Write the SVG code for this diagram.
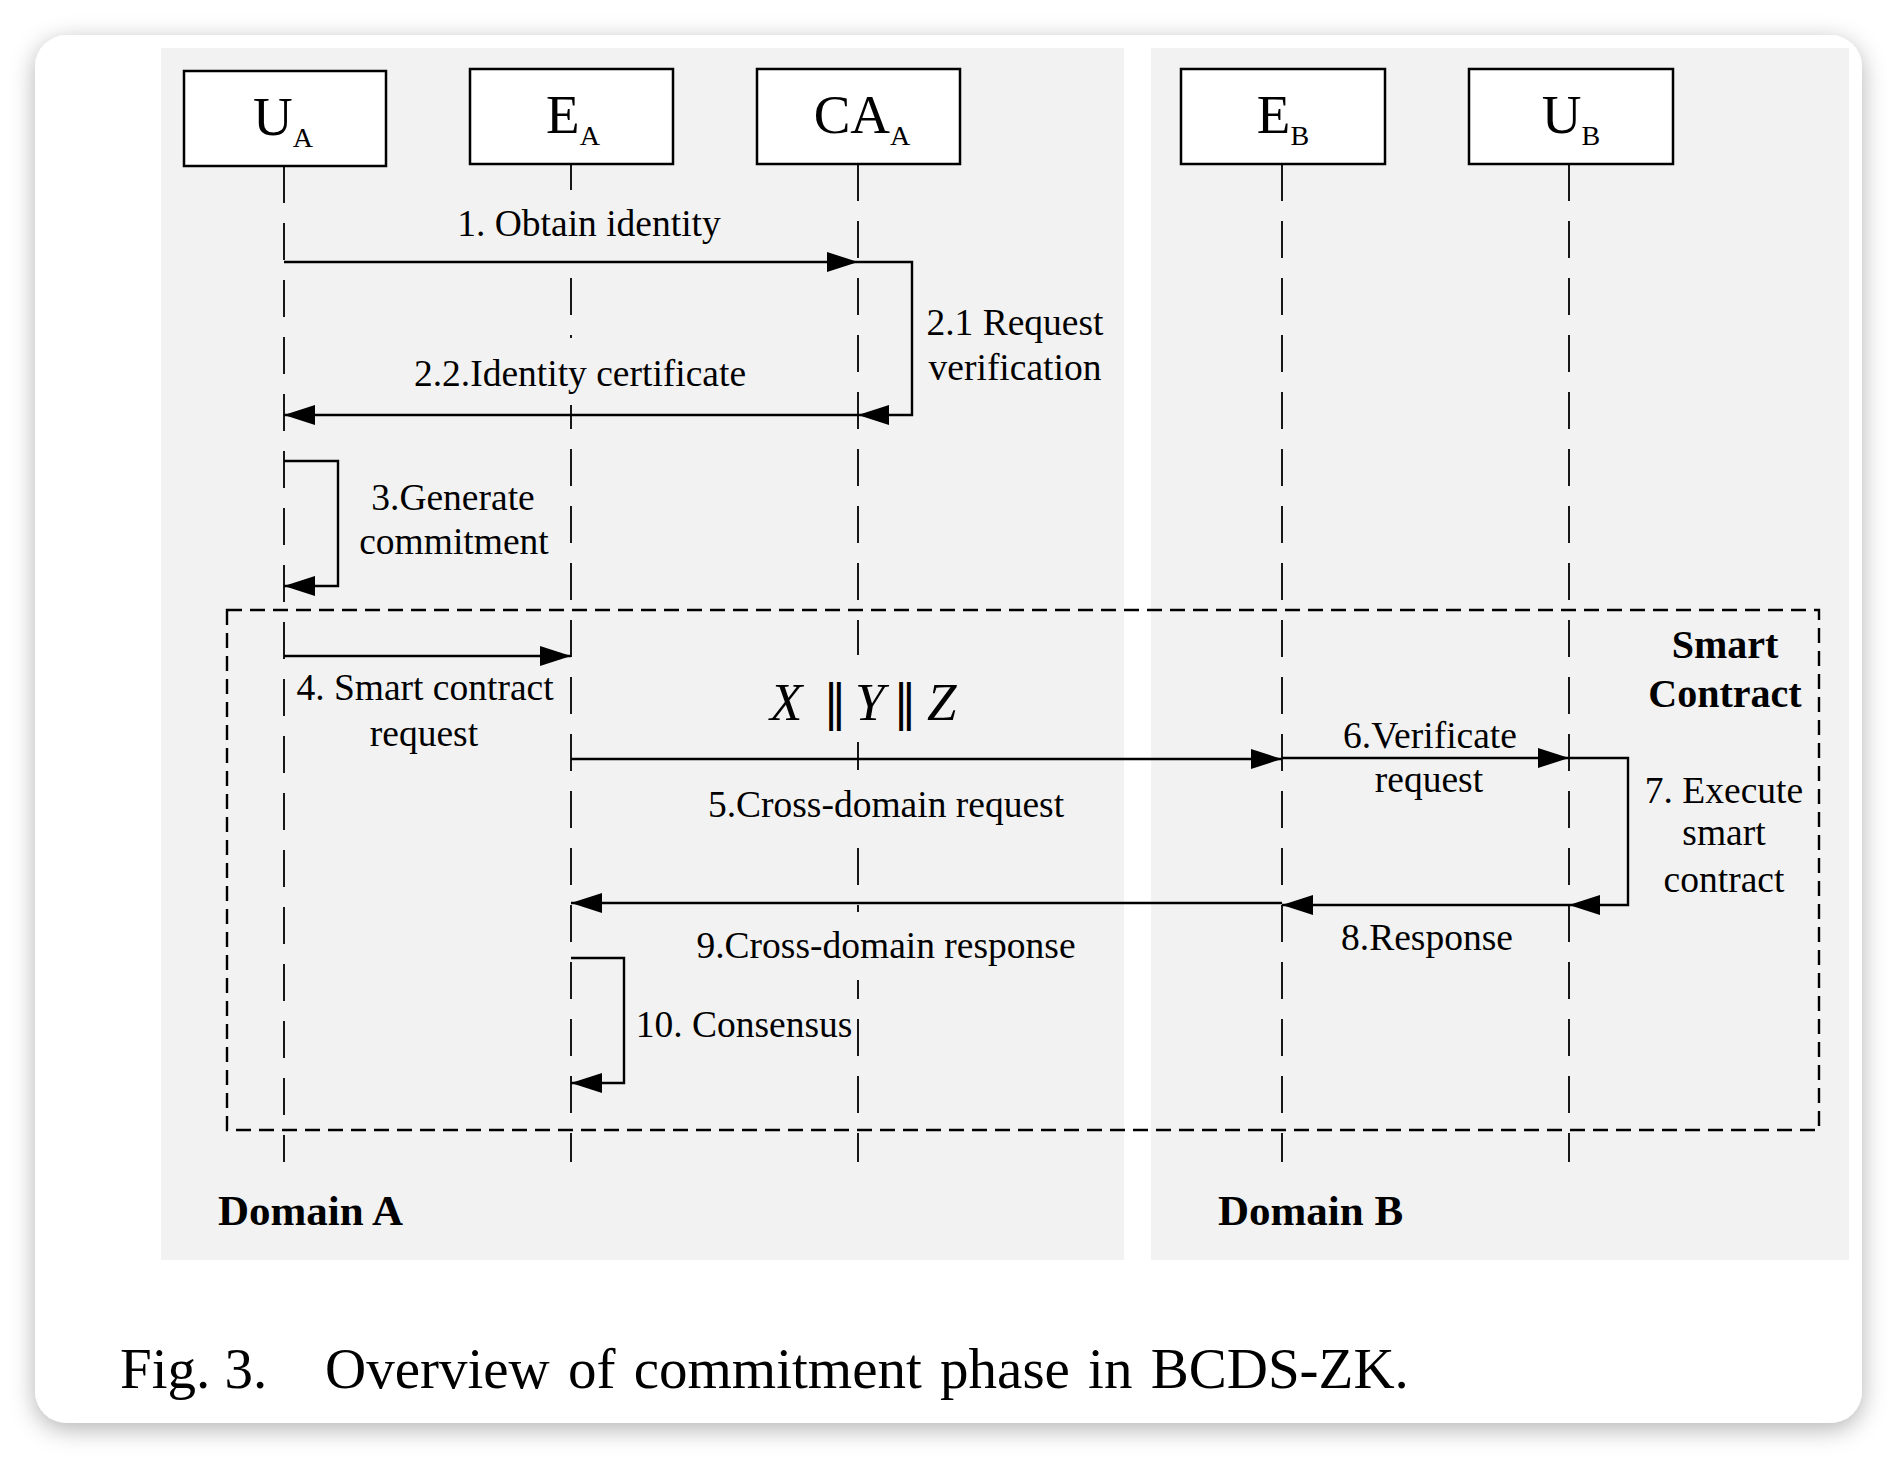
<svg xmlns="http://www.w3.org/2000/svg" width="1898" height="1460" viewBox="0 0 1898 1460">
<style>
.t{font-family:"Liberation Serif","Times New Roman",serif;font-size:37.5px;fill:#000;text-anchor:middle}
.b{font-family:"Liberation Serif","Times New Roman",serif;font-weight:bold;fill:#000}
.node{fill:#fff;stroke:#000;stroke-width:2.5}
.nl{font-family:"Liberation Serif","Times New Roman",serif;font-size:55px;fill:#000;text-anchor:middle}
.sub{font-size:28px}
.life{stroke:#000;stroke-width:1.8;stroke-dasharray:37 20;fill:none}
.msg{stroke:#000;stroke-width:2.4;fill:none;marker-end:url(#ah)}
.bg{fill:#f2f2f2}
.bar{font-family:"DejaVu Serif",serif;font-size:48px;font-style:normal}
</style>
<defs>
<filter id="sh" x="-5%" y="-5%" width="110%" height="115%">
<feDropShadow dx="0" dy="6" stdDeviation="12" flood-color="#000" flood-opacity="0.3"/>
</filter>
<marker id="ah" viewBox="0 0 31 20" refX="31" refY="10" markerWidth="31" markerHeight="20" markerUnits="userSpaceOnUse" orient="auto">
<path d="M0,0 L31,10 L0,20 Z" fill="#000"/>
</marker>
</defs>
<rect width="1898" height="1460" fill="#fff"/>
<rect x="35" y="35" width="1827" height="1388" rx="32" fill="#fff" filter="url(#sh)"/>
<g id="domainA"><rect x="161" y="48" width="963" height="1212" fill="#f2f2f2"/>
<text class="b" x="218" y="1225" font-size="43">Domain A</text></g>
<g id="domainB"><rect x="1151" y="48" width="698" height="1212" fill="#f2f2f2"/>
<text class="b" x="1218" y="1225" font-size="43">Domain B</text></g>

<g id="lifelines">
<line class="life" x1="284" y1="166" x2="284" y2="1162"/>
<line class="life" x1="571" y1="164" x2="571" y2="1162"/>
<line class="life" x1="858" y1="164" x2="858" y2="1162"/>
<line class="life" x1="1282" y1="164" x2="1282" y2="1162"/>
<line class="life" x1="1569" y1="164" x2="1569" y2="1162"/>
</g>

<g id="smart-contract">
<rect x="227" y="610" width="1592" height="520" fill="none" stroke="#000" stroke-width="2.4" stroke-dasharray="15 8"/>
<text class="b" x="1725" y="658" font-size="40" text-anchor="middle">Smart</text>
<text class="b" x="1725" y="707" font-size="40" text-anchor="middle">Contract</text>
</g>

<g id="UA"><rect class="node" x="184" y="71" width="202" height="95"/><text class="nl" x="283" y="135">U<tspan class="sub" dy="12">A</tspan></text></g>
<g id="EA"><rect class="node" x="470" y="69" width="203" height="95"/><text class="nl" x="573" y="133">E<tspan class="sub" dy="12">A</tspan></text></g>
<g id="CAA"><rect class="node" x="757" y="69" width="203" height="95"/><text class="nl" x="862" y="133">CA<tspan class="sub" dy="12">A</tspan></text></g>
<g id="EB"><rect class="node" x="1181" y="69" width="204" height="95"/><text class="nl" x="1283" y="133">E<tspan class="sub" dy="12">B</tspan></text></g>
<g id="UB"><rect class="node" x="1469" y="69" width="204" height="95"/><text class="nl" x="1571" y="133">U<tspan class="sub" dy="12">B</tspan></text></g>

<g id="label-bg">
<rect class="bg" x="455" y="190" width="270" height="85"/>
<rect class="bg" x="410" y="338" width="340" height="67"/>
<rect class="bg" x="765" y="655" width="200" height="87"/>
<rect class="bg" x="700" y="770" width="372" height="62"/>
<rect class="bg" x="690" y="912" width="395" height="68"/>
</g>

<g id="connectors">
<path class="msg" d="M284,262 H858"/>
<path class="msg" d="M858,262 H912 V415 H858"/>
<path class="msg" d="M858,415 H284"/>
<path class="msg" d="M284,461 H338 V586 H284"/>
<path class="msg" d="M284,656 H571"/>
<path class="msg" d="M571,759 H1282"/>
<path class="msg" d="M1282,758 H1569"/>
<path class="msg" d="M1569,758 H1628 V905 H1569"/>
<path class="msg" d="M1569,905 H1282"/>
<path class="msg" d="M1282,903 H571"/>
<path class="msg" d="M571,958 H624 V1083 H571"/>
</g>

<g id="labels">
<text class="t" x="589" y="236">1. Obtain identity</text>
<text class="t" x="1015" y="335">2.1 Request</text>
<text class="t" x="1015" y="380">verification</text>
<text class="t" x="580" y="386">2.2.Identity certificate</text>
<text class="t" x="453" y="510">3.Generate</text>
<text class="t" x="454" y="554">commitment</text>
<text class="t" x="425" y="700">4. Smart contract</text>
<text class="t" x="424" y="746">request</text>
<text style="font-family:'Liberation Serif','DejaVu Serif',serif;font-size:53px;fill:#000"><tspan x="770" y="720" font-style="italic">X</tspan><tspan class="bar" x="823" y="720">‖</tspan><tspan x="855" y="720" font-style="italic">Y</tspan><tspan class="bar" x="893" y="720">‖</tspan><tspan x="927" y="720" font-style="italic">Z</tspan></text>
<text class="t" x="886" y="817">5.Cross-domain request</text>
<text class="t" x="1430" y="748">6.Verificate</text>
<text class="t" x="1429" y="792">request</text>
<text class="t" x="1724" y="803">7. Execute</text>
<text class="t" x="1724" y="845">smart</text>
<text class="t" x="1724" y="892">contract</text>
<text class="t" x="1427" y="950">8.Response</text>
<text class="t" x="886" y="958">9.Cross-domain response</text>
<text class="t" x="744" y="1037">10. Consensus</text>
</g>

<g id="caption">
<text x="120" y="1388" style="font-family:'Liberation Serif','Times New Roman',serif;font-size:57px;fill:#000">Fig. 3.</text>
<text x="325" y="1388" style="font-family:'Liberation Serif','Times New Roman',serif;font-size:57px;fill:#000;word-spacing:4px">Overview of commitment phase in BCDS-ZK.</text>
</g>
</svg>
